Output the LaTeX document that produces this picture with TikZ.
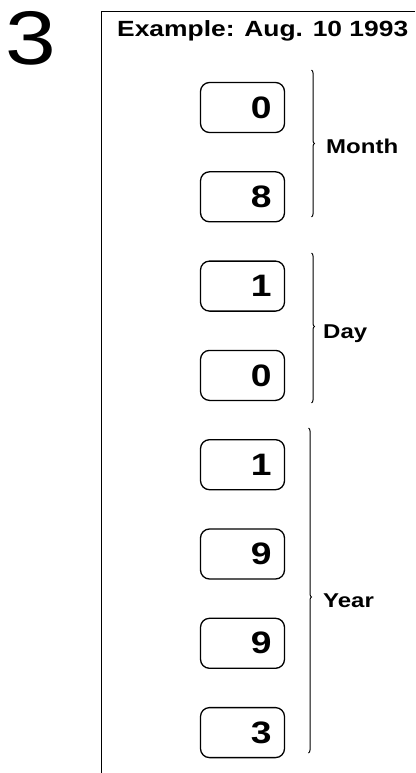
\documentclass[tikz,border=0pt]{standalone}
\usepackage{fontspec}
\setmainfont{Liberation Sans}[FakeStretch=1.2]
\usepackage{tikz}
\usetikzlibrary{positioning, decorations.pathreplacing}

\begin{document}
\begin{tikzpicture}[x=1pt, y=-1pt,
    keybox/.style={draw, line width=1.3pt, rounded corners=9pt,
      minimum width=84pt, minimum height=50pt, inner xsep=13pt,
      text width=58pt, align=right,
      font=\fontsize{31}{31}\selectfont\bfseries},
    brc/.style={draw, line width=1pt, decorate,
      decoration={brace, amplitude=3pt, aspect=#1}},
    lbl/.style={anchor=base west, inner sep=0pt,
      font=\fontsize{20}{24}\selectfont\bfseries}]
    \useasboundingbox (0,0) rectangle (415,773);

    \node[anchor=base west, inner sep=0pt,
          font=\fontsize{76}{76}\selectfont] (step) at (5,65) {3};
    \draw[line width=1pt] (415,12) -- (101,12) -- (101,773);
    \node[anchor=base west, inner sep=0pt,
          font=\fontsize{22}{26}\selectfont\bfseries] (title) at (117,37)
      {Example: Aug. 10 1993};

    \node[keybox] (m1) at (242.5,107.5) {0};
    \node[keybox, below=38pt of m1] (m2) {8};
    \node[keybox, below=38pt of m2] (d1) {1};
    \node[keybox, below=38pt of d1] (d2) {0};
    \node[keybox, below=38pt of d2] (y1) {1};
    \node[keybox, below=38pt of y1] (y2) {9};
    \node[keybox, below=38pt of y2] (y3) {9};
    \node[keybox, below=38pt of y3] (y4) {3};

    \coordinate (mtop) at (311.5,70);
    \coordinate (mbot) at (311.5,217);
    \coordinate (dtop) at (311.5,253);
    \coordinate (dbot) at (311.5,403);
    \coordinate (ytop) at (308.5,428);
    \coordinate (ybot) at (308.5,753);
    \draw[brc=0.5] (mtop) -- (mbot);
    \draw[brc=0.49] (dtop) -- (dbot);
    \draw[brc=0.52] (ytop) -- (ybot);

    \node[lbl] (month) at (326,153) {Month};
    \node[lbl] (day) at (323,338) {Day};
    \node[lbl] (year) at (323,607) {Year};
  \end{tikzpicture}
\end{document}
